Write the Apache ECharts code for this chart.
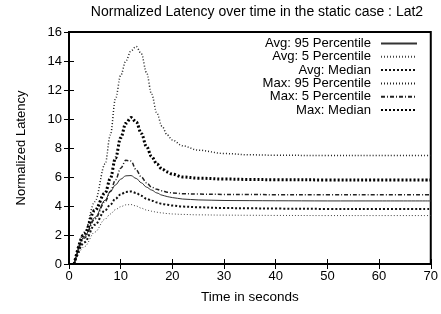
<!DOCTYPE html>
<html>
<head>
<meta charset="utf-8">
<script src="https://cdn.jsdelivr.net/npm/echarts@6/dist/echarts.min.js"></script>
<style>
  html, body { margin: 0; padding: 0; background: #fff; }
  #chart { width: 441px; height: 314px; }
</style>
</head>
<body>
<div id="chart"></div>
<script>
// time axis (seconds) shared by all series
const times = [1, 3, 5, 7, 8, 9, 10, 11, 12, 13, 14, 15, 16, 17, 18, 19, 20, 22, 25, 30, 35, 40, 50, 60, 70];

// values
const avg95  = [0, 1.9, 3.2, 4.4, 5.0, 5.45, 5.85, 6.08, 6.1, 5.9, 5.6, 5.3, 5.1, 4.9, 4.75, 4.65, 4.58, 4.48, 4.42, 4.38, 4.37, 4.36, 4.35, 4.35, 4.35];
const avg5   = [0, 1.2, 2.2, 3.1, 3.45, 3.75, 3.95, 4.08, 4.1, 4.0, 3.85, 3.72, 3.64, 3.57, 3.52, 3.48, 3.45, 3.42, 3.39, 3.37, 3.36, 3.35, 3.34, 3.34, 3.34];
const avgMed = [0, 1.5, 2.7, 3.7, 4.1, 4.5, 4.8, 4.97, 5.0, 4.9, 4.7, 4.5, 4.37, 4.25, 4.15, 4.08, 4.03, 3.96, 3.91, 3.86, 3.84, 3.82, 3.8, 3.8, 3.8];
const max95  = [0, 2.2, 4.3, 6.9, 8.9, 11.4, 13.0, 14.0, 14.7, 15.0, 14.5, 13.2, 11.7, 10.4, 9.5, 8.9, 8.55, 8.15, 7.85, 7.62, 7.53, 7.5, 7.48, 7.48, 7.48];
const max5   = [0, 1.8, 3.1, 4.3, 5.0, 5.8, 6.6, 7.15, 7.1, 6.5, 6.0, 5.6, 5.3, 5.15, 5.05, 4.95, 4.9, 4.85, 4.82, 4.8, 4.79, 4.78, 4.78, 4.78, 4.78];
const maxMed = [0, 2.1, 3.7, 4.9, 5.9, 7.3, 8.7, 9.7, 10.1, 9.8, 9.0, 8.1, 7.4, 6.9, 6.55, 6.35, 6.2, 6.0, 5.92, 5.86, 5.83, 5.81, 5.8, 5.8, 5.8];

const seriesNames = ['Avg: 95 Percentile', 'Avg: 5 Percentile', 'Avg: Median',
                     'Max: 95 Percentile', 'Max: 5 Percentile', 'Max: Median'];
const seriesData = [avg95, avg5, avgMed, max95, max5, maxMed];

// gnuplot-ish line styles
const styles = [
  { width: 1,   type: 'solid',      color: '#333' },
  { width: 1,   type: [1, 2],       color: '#444' },
  { width: 2,   type: [2, 2],       color: '#111' },
  { width: 1.5, type: [1, 2],       color: '#222' },
  { width: 1.5, type: [4, 2, 1, 2], color: '#222' },
  { width: 3,   type: [2, 2],       color: '#000' }
];

const font = 'Liberation Sans, Arial, sans-serif';

function pairs(vals){
  return vals.map((v, i) => [times[i], v]);
}

let series = seriesNames.map((name, i) => ({
  name: name,
  type: 'line',
  data: pairs(seriesData[i]),
  smooth: 0.35,
  smoothMonotone: 'x',
  symbol: 'none',
  lineStyle: { width: styles[i].width, type: styles[i].type, color: styles[i].color },
  itemStyle: { color: styles[i].color },
  emphasis: { disabled: true }
}));

let chart = echarts.init(document.getElementById('chart'), null, { renderer: 'canvas' });

const tickStyle = { show: true, inside: true, length: 5, lineStyle: { color: '#000', width: 1 } };

chart.setOption({
  animation: false,
  backgroundColor: '#fff',
  textStyle: { fontFamily: font },
  title: {
    text: 'Normalized Latency over time in the static case : Lat2',
    left: 252, top: 0, textAlign: 'center',
    textStyle: { fontSize: 14, fontWeight: 'normal', color: '#000', fontFamily: font }
  },
  grid: { left: 69, right: 7, top: 32, bottom: 50, show: true, borderColor: '#000', borderWidth: 2 },
  legend: {
    orient: 'vertical',
    right: 23, top: 37,
    padding: 0,
    align: 'right',
    itemWidth: 36, itemHeight: 10, itemGap: 0.3,
    itemStyle: { opacity: 0 },
    textStyle: { fontSize: 13.1, color: '#000', fontFamily: font, padding: [0, 5, 0, 0] },
    data: seriesNames
  },
  xAxis: [{
    type: 'value', min: 0, max: 70, interval: 10,
    name: 'Time in seconds', nameLocation: 'middle', nameGap: 26,
    nameTextStyle: { fontSize: 13.5, color: '#000' },
    axisLine: { show: true, lineStyle: { color: '#000', width: 2 } },
    axisTick: tickStyle,
    axisLabel: { color: '#000', fontSize: 13, margin: 6, showMaxLabel: true },
    splitLine: { show: false }
  }, {
    type: 'value', min: 0, max: 70, interval: 10, position: 'top',
    axisLine: { show: true, lineStyle: { color: '#000', width: 2 } },
    axisTick: tickStyle,
    axisLabel: { show: false },
    splitLine: { show: false }
  }],
  yAxis: [{
    type: 'value', min: 0, max: 16, interval: 2,
    name: 'Normalized Latency', nameLocation: 'middle', nameGap: 41,
    nameTextStyle: { fontSize: 13, color: '#000' },
    axisLine: { show: true, lineStyle: { color: '#000', width: 2 } },
    axisTick: tickStyle,
    axisLabel: { color: '#000', fontSize: 13, margin: 7 },
    splitLine: { show: false }
  }, {
    type: 'value', min: 0, max: 16, interval: 2, position: 'right',
    axisLine: { show: true, lineStyle: { color: '#000', width: 2 } },
    axisTick: tickStyle,
    axisLabel: { show: false },
    splitLine: { show: false }
  }],
  series: series
});
</script>
</body>
</html>
